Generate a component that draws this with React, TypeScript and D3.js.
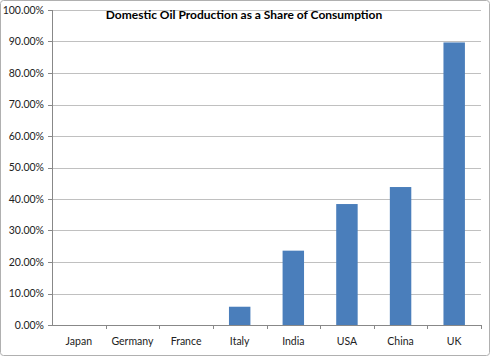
import React from "react";
import * as d3 from "d3";

const categories = ["Japan", "Germany", "France", "Italy", "India", "USA", "China", "UK"];
const values = [0, 0, 0, 0.058, 0.236, 0.384, 0.438, 0.897];
const yTicks = [0, 0.1, 0.2, 0.3, 0.4, 0.5, 0.6, 0.7, 0.8, 0.9, 1.0];
const title = "Domestic Oil Production as a Share of Consumption";

export default function App() {
  const W = 490, H = 356;
  const left = 52, right = 481, top = 10, bottom = 325;
  const x = d3.scaleBand<string>().domain(categories).range([left, right]).paddingInner(0.6).paddingOuter(0.3);
  const xb = d3.scaleBand<string>().domain(categories).range([left, right]);
  const y = d3.scaleLinear().domain([0, 1]).range([bottom, top]);
  const font = "Lato, 'Open Sans', sans-serif";
  return (
    <svg width={W} height={H} style={{ position: "absolute", left: 0, top: 0 }}>
      <rect x={0.5} y={0.5} width={W - 1} height={H - 1} fill="#fff" stroke="#b0b0b0" rx={3} />
      {yTicks.map((t) => (
        <g key={t}>
          {t > 0 && <line x1={left} x2={right} y1={Math.round(y(t)) + 0.5} y2={Math.round(y(t)) + 0.5} stroke="#c0c0c0" />}
          <line x1={left - 4} x2={left} y1={Math.round(y(t)) + 0.5} y2={Math.round(y(t)) + 0.5} stroke="#888" />
          <text x={left - 8} y={y(t)} dy="0.35em" textAnchor="end" fontSize={10.5} fontFamily={font} fill="#222">
            {(t * 100).toFixed(2) + "%"}
          </text>
        </g>
      ))}
      {categories.map((c, i) => (
        <rect key={c} x={x(c)} y={y(values[i])} width={x.bandwidth()} height={bottom - y(values[i])} fill="#4a7ebb" />
      ))}
      <line x1={left + 0.5} x2={left + 0.5} y1={top} y2={bottom} stroke="#888" />
      <line x1={left} x2={right} y1={bottom + 0.5} y2={bottom + 0.5} stroke="#888" />
      {categories.map((c, i) => (
        <line key={"t" + c} x1={Math.round(xb(c)! + xb.bandwidth()) + 0.5} x2={Math.round(xb(c)! + xb.bandwidth()) + 0.5} y1={bottom} y2={bottom + 4} stroke="#888" />
      ))}
      {categories.map((c) => (
        <text key={"l" + c} x={xb(c)! + xb.bandwidth() / 2} y={345} textAnchor="middle" fontSize={10.5} fontFamily={font} fill="#222">
          {c}
        </text>
      ))}
      <text x={244} y={19} textAnchor="middle" fontSize={12} fontWeight="bold" fontFamily={font} fill="#000">
        {title}
      </text>
    </svg>
  );
}
